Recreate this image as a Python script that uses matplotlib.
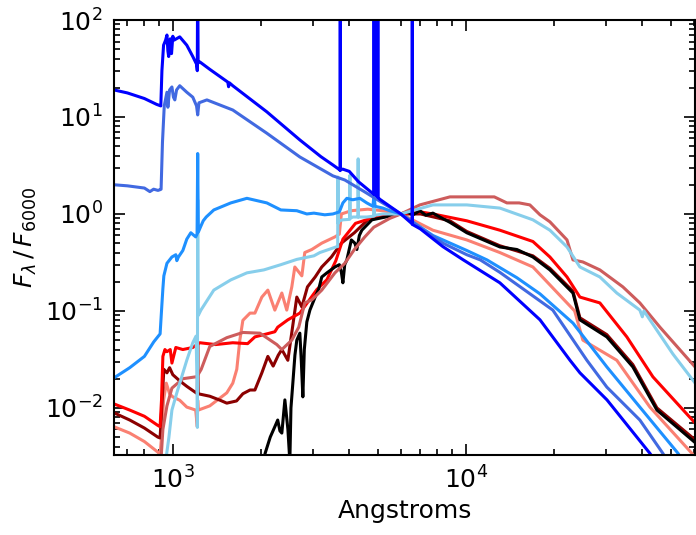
import matplotlib
matplotlib.use('Agg')
import matplotlib.pyplot as plt
import numpy as np

plt.rcParams['axes.unicode_minus'] = False

# spectra: (wavelength in Angstrom, F_lambda / F_6000)
blue_pts = [(630, 19), (700, 17.7), (800, 15.5), (880, 13.5), (910, 13), (918, 30), (930, 55),
            (945, 62), (955, 70), (962, 48), (968, 42), (980, 64), (990, 45), (1000, 68),
            (1010, 62), (1056, 67), (1116, 55), (1170, 42), (1205, 35), (1212, 30), (1216, 400),
            (1220, 36), (1236, 37), (1337, 31), (1540, 22.9), (1550, 20.5), (1560, 22.5),
            (1602, 21), (2093, 11.3), (2713, 5.8), (3200, 3.9),
            (3518, 3.2), (3718, 2.84), (3724, 2.8), (3727, 400), (3730, 2.85), (3800, 2.9),
            (3863, 2.85), (4000, 2.75), (4300, 2.15), (4818, 1.62), (4855, 1.6), (4861, 400),
            (4867, 1.6), (4953, 1.55), (4959, 400), (4965, 1.55), (5001, 1.5), (5007, 400),
            (5013, 1.48), (5081, 1.42), (5500, 1.2), (6000, 1.0), (6557, 0.79), (6563, 400),
            (6569, 0.78), (7000, 0.70), (8350, 0.46), (9800, 0.336), (13060, 0.195), (17900, 0.081),
            (22660, 0.031), (24500, 0.023), (30300, 0.0121), (42450, 0.0034), (55000, 0.0011)]

royal_pts = [(630, 2.0), (700, 1.95), (800, 1.85), (835, 1.7), (860, 1.8), (890, 1.75), (905, 1.78),
             (912, 1.8), (922, 5.5), (935, 13), (955, 18), (962, 12.6), (975, 19), (993, 20.4),
             (1005, 16), (1016, 15), (1030, 19), (1056, 21), (1116, 18), (1170, 16), (1205, 13),
             (1216, 10.5), (1228, 14), (1307, 15), (1602, 11.8), (2093, 6.8), (2713, 3.87),
             (3518, 2.47), (3863, 2.24), (4500, 1.7), (5200, 1.3), (6000, 1.0), (7000, 0.72),
             (8350, 0.5), (10070, 0.38), (11200, 0.336), (13060, 0.25), (19800, 0.102),
             (25870, 0.031), (30260, 0.0164), (39230, 0.0075), (47000, 0.0034), (56000, 0.0014)]

dodger_pts = [(630, 0.0204), (713, 0.026), (800, 0.034), (861, 0.048), (905, 0.058), (915, 0.1),
              (925, 0.17), (932, 0.23), (955, 0.31), (993, 0.36), (1024, 0.38), (1032, 0.33),
              (1045, 0.36), (1082, 0.42), (1116, 0.55), (1152, 0.64), (1197, 0.58), (1210, 0.62),
              (1216, 4.2), (1222, 0.65), (1247, 0.75), (1270, 0.85), (1300, 0.93), (1380, 1.1),
              (1577, 1.3), (1790, 1.45), (2093, 1.3), (2337, 1.1), (2649, 1.08), (2866, 1.0),
              (3030, 1.02), (3300, 0.98), (3518, 1.0), (3700, 1.05), (3805, 1.3), (3925, 1.45),
              (4113, 1.4), (4346, 1.45), (4590, 1.3), (4818, 1.2), (4861, 1.6), (4900, 1.2),
              (5207, 1.15), (5500, 1.08), (6000, 1.0), (7715, 0.6), (10070, 0.42), (11800, 0.336),
              (14930, 0.22), (17900, 0.15), (23190, 0.075), (30260, 0.0265), (39230, 0.0102),
              (52960, 0.0034), (60500, 0.0018)]

sky_pts = [(880, 0.0008), (940, 0.0025), (970, 0.005), (993, 0.0095), (1032, 0.0143), (1116, 0.031),
           (1170, 0.047), (1200, 0.055), (1210, 0.02), (1213, 0.0063), (1216, 1.4), (1219, 0.2),
           (1222, 0.09), (1247, 0.102), (1380, 0.164), (1577, 0.209), (1790, 0.247), (2045, 0.265),
           (2337, 0.30), (2649, 0.34), (3030, 0.37), (3175, 0.40), (3629, 0.46), (3652, 0.46),
           (3660, 2.4), (3668, 0.8), (3700, 0.85), (3805, 0.87), (4014, 0.88), (4020, 2.5),
           (4026, 0.9), (4113, 0.93), (4284, 0.93), (4290, 3.7), (4296, 0.93), (4590, 0.93),
           (4855, 0.95), (4861, 1.45), (4867, 0.97), (5000, 0.98), (5207, 1.0), (6000, 1.0),
           (7715, 1.24), (10070, 1.24), (13060, 1.15), (16930, 0.87), (19350, 0.68), (22130, 0.457),
           (24490, 0.284), (28650, 0.224), (32730, 0.153), (39230, 0.102), (40000, 0.087),
           (40500, 0.1), (50850, 0.036), (60500, 0.0181)]

salmon_pts = [(630, 0.0064), (713, 0.0055), (800, 0.0045), (889, 0.0035), (905, 0.0033), (915, 0.005),
              (930, 0.012), (950, 0.018), (975, 0.014), (1000, 0.013), (1056, 0.012), (1116, 0.0102),
              (1197, 0.0095), (1212, 0.0064), (1216, 0.012), (1222, 0.0095), (1337, 0.0105),
              (1528, 0.0143), (1602, 0.018), (1653, 0.025), (1693, 0.05), (1734, 0.08), (1834, 0.095),
              (1906, 0.095), (2013, 0.139), (2110, 0.164), (2229, 0.102), (2355, 0.153), (2448, 0.102),
              (2547, 0.177), (2608, 0.284), (2756, 0.23), (2820, 0.40), (2980, 0.43), (3223, 0.5),
              (3574, 0.58), (3700, 0.62), (3760, 1.0), (4066, 1.08), (4625, 1.12), (5207, 1.08),
              (6000, 1.0), (7715, 0.68), (10070, 0.54), (13060, 0.40), (16930, 0.284),
              (22130, 0.121), (23500, 0.1), (25070, 0.05), (32730, 0.031), (42450, 0.0102),
              (59060, 0.0034), (61000, 0.003)]

darkred_pts = [(630, 0.0089), (713, 0.0075), (800, 0.0062), (889, 0.005), (905, 0.0049), (915, 0.009),
               (932, 0.025), (955, 0.023), (975, 0.026), (1000, 0.022), (1056, 0.019), (1116, 0.0167),
               (1205, 0.0142), (1212, 0.014), (1216, 0.045), (1220, 0.014), (1337, 0.0132),
               (1450, 0.012), (1528, 0.0112), (1650, 0.0118), (1734, 0.014), (1834, 0.0153),
               (1906, 0.0153), (2013, 0.023), (2110, 0.034), (2200, 0.027), (2290, 0.035),
               (2355, 0.04), (2469, 0.031), (2547, 0.06), (2649, 0.139), (2756, 0.11), (2880, 0.177),
               (3060, 0.224), (3223, 0.284), (3476, 0.36), (3760, 0.5), (4164, 0.64), (4625, 0.87),
               (5200, 0.93), (6000, 1.0), (7000, 1.0), (8820, 0.85), (10070, 0.66), (13060, 0.47),
               (16930, 0.37), (19350, 0.275), (23190, 0.16), (24490, 0.085), (30260, 0.057),
               (37120, 0.028), (44860, 0.01), (61000, 0.0046)]

red_pts = [(630, 0.011), (713, 0.0095), (800, 0.0082), (889, 0.0066), (905, 0.0064), (915, 0.012),
           (925, 0.034), (940, 0.04), (955, 0.038), (980, 0.040), (993, 0.029), (1024, 0.042),
           (1082, 0.04), (1170, 0.042), (1236, 0.047), (1400, 0.045), (1602, 0.047), (1800, 0.046),
           (1906, 0.054), (2093, 0.058), (2229, 0.061), (2280, 0.068), (2469, 0.081), (2713, 0.095),
           (3100, 0.166), (3356, 0.21), (3600, 0.33), (3805, 0.55), (4200, 0.8), (5000, 0.95),
           (6000, 1.0), (7000, 1.05), (7715, 1.0), (10070, 0.85), (13060, 0.68), (16930, 0.52),
           (19350, 0.36), (22130, 0.224), (24490, 0.139), (28650, 0.121), (35410, 0.054),
           (43470, 0.0209), (60500, 0.0070)]

indian_pts = [(880, 0.001), (912, 0.003), (925, 0.006), (955, 0.0105), (993, 0.016), (1082, 0.02),
              (1208, 0.021), (1250, 0.025), (1337, 0.043), (1528, 0.053), (1734, 0.06), (1982, 0.059),
              (2264, 0.045), (2355, 0.04), (2547, 0.05), (2690, 0.068), (2820, 0.121), (2980, 0.13),
              (3223, 0.164), (3574, 0.247), (3863, 0.31), (4164, 0.43), (4520, 0.58), (4850, 0.73),
              (5500, 0.9), (6000, 1.0), (6966, 1.24), (8820, 1.5), (12500, 1.5), (13800, 1.3),
              (15200, 1.3), (16530, 1.24), (17900, 0.98), (19350, 0.83), (22130, 0.54),
              (23190, 0.336), (25070, 0.32), (28650, 0.265), (34330, 0.177), (39230, 0.121),
              (45930, 0.068), (60500, 0.0265)]

black_pts = [(1950, 0.001), (2065, 0.0034), (2150, 0.005), (2229, 0.0064), (2280, 0.0075),
             (2320, 0.0058), (2355, 0.0055), (2412, 0.0121), (2470, 0.006), (2508, 0.0028),
             (2530, 0.01), (2568, 0.0181), (2610, 0.035), (2649, 0.05), (2713, 0.059), (2745, 0.03),
             (2778, 0.013), (2810, 0.04), (2866, 0.077), (2936, 0.102), (3060, 0.139), (3150, 0.17),
             (3223, 0.224), (3356, 0.247), (3574, 0.284), (3700, 0.3), (3760, 0.25), (3805, 0.195),
             (3860, 0.3), (3925, 0.336), (4066, 0.54), (4180, 0.5), (4246, 0.43), (4330, 0.6),
             (4415, 0.68), (4780, 0.87), (5500, 0.95), (6000, 1.0), (6300, 1.05), (6600, 0.98),
             (6966, 1.08), (7300, 0.97), (7715, 1.02), (8150, 0.93), (8820, 0.82), (10070, 0.64),
             (13060, 0.457), (14930, 0.43), (16930, 0.36), (19350, 0.265), (23190, 0.153),
             (24490, 0.081), (30260, 0.054), (37120, 0.0265), (44860, 0.0095), (60500, 0.0044)]

# drawing order, bottom first
curves = [(salmon_pts, 'salmon'), (darkred_pts, 'darkred'), (red_pts, 'red'),
          (black_pts, 'black'), (indian_pts, 'indianred'), (sky_pts, 'skyblue'),
          (dodger_pts, 'dodgerblue'), (royal_pts, 'royalblue'), (blue_pts, 'blue')]

fig = plt.figure(figsize=(6.96, 5.35), dpi=100)
ax = fig.add_axes([114 / 696, 80 / 535, 581 / 696, 435 / 535])

for pts, col in curves:
    wl, fl = zip(*pts)
    ax.loglog(wl, fl, color=col, lw=2.2, solid_joinstyle='round')

ax.set_xlim(630, 60500)
ax.set_ylim(3.27e-3, 100)
ax.set_xlabel('Angstroms', fontsize=18)
ax.set_ylabel(r'$F_\lambda\,/\,F_{6000}$', fontsize=18)
ax.tick_params(which='both', direction='in', top=True, right=True, labelsize=18, width=1.2)
ax.tick_params(which='major', length=8, pad=8)
ax.tick_params(which='minor', length=4)
for s in ax.spines.values():
    s.set_linewidth(1.5)

fig.savefig('out.png', dpi=100)
